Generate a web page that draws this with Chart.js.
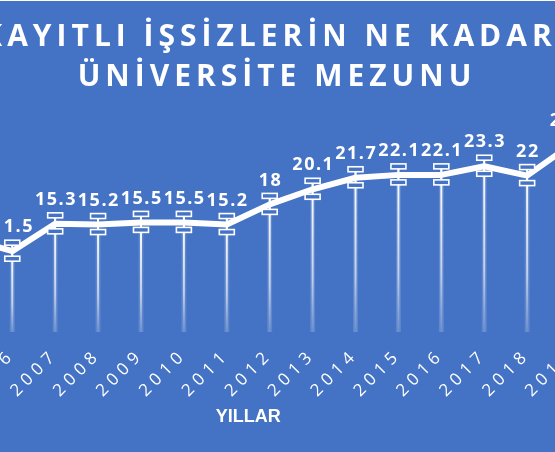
<!DOCTYPE html>
<html lang="tr">
<head>
<meta charset="utf-8">
<title>Kayıtlı işsizlerin ne kadarı üniversite mezunu</title>
<script src="https://cdn.jsdelivr.net/npm/chart.js@4.4.1/dist/chart.umd.min.js"></script>
<style>
  html, body {
    margin: 0;
    padding: 0;
    width: 555px;
    height: 452px;
    overflow: hidden;
    background: #4472C4;
  }
  /* the plot is wider than the window, both ends are cut off like the original */
  #wrap {
    position: absolute;
    left: -135px;
    top: 0;
    width: 800px;
    height: 452px;
  }
</style>
</head>
<body>
<div id="wrap"><canvas id="chart" width="800" height="452"></canvas></div>
<script>
// ========================================
// Data
// ========================================
const YEARS = ['2004', '2005', '2006', '2007', '2008', '2009', '2010', '2011',
               '2012', '2013', '2014', '2015', '2016', '2017', '2018', '2019'];
// 2004 is outside the picture, 2005 and 2019 are estimated from the cut line
const SHARE = [null, 13.2, 11.5, 15.3, 15.2, 15.5, 15.5, 15.2,
               18, 20.1, 21.7, 22.1, 22.1, 23.3, 22, 26.2];
const TITLE_LINES = ['KAYITLI İŞSİZLERİN NE KADARI', 'ÜNİVERSİTE MEZUNU'];
const X_TITLE = 'YILLAR';
const Y_MIN = 0;
const Y_MAX = 30;

const WHITE = '#ffffff';
const BLUE = '#4472C4';

// ========================================
// Plugins
// ========================================

// wide letter spacing for title and year labels, none for the axis title
const letterSpacing = {
  id: 'letterSpacing',
  beforeDraw(chart) {
    chart.ctx.letterSpacing = '5px';
  }
};

// vertical drop lines from each point to the axis
const dropLines = {
  id: 'dropLines',
  beforeDatasetsDraw(chart) {
    const ctx = chart.ctx;
    const meta = chart.getDatasetMeta(0);
    const base = chart.scales.y.getPixelForValue(Y_MIN);
    ctx.save();
    meta.data.forEach((pt, i) => {
      if (SHARE[i] === null || isNaN(pt.y)) return;
      const top = pt.y + 10;
      const g = ctx.createLinearGradient(0, top, 0, base);
      g.addColorStop(0, 'rgba(255,255,255,0.95)');
      g.addColorStop(0.6, 'rgba(255,255,255,0.6)');
      g.addColorStop(1, 'rgba(255,255,255,0.05)');

      // soft glow
      ctx.strokeStyle = 'rgba(255,255,255,0.15)';
      ctx.lineWidth = 5;
      ctx.beginPath();
      ctx.moveTo(pt.x, top);
      ctx.lineTo(pt.x, base - 2);
      ctx.stroke();

      ctx.strokeStyle = g;
      ctx.lineWidth = 2;
      ctx.beginPath();
      ctx.moveTo(pt.x, top);
      ctx.lineTo(pt.x, base - 2);
      ctx.stroke();
    });
    ctx.restore();
  }
};

// I-beam markers and value labels
const markersAndLabels = {
  id: 'markersAndLabels',
  afterDatasetsDraw(chart) {
    const ctx = chart.ctx;
    const meta = chart.getDatasetMeta(0);
    ctx.save();
    meta.data.forEach((pt, i) => {
      if (SHARE[i] === null || isNaN(pt.y)) return;
      const x = pt.x;
      const y = pt.y;

      // stem
      ctx.strokeStyle = WHITE;
      ctx.lineWidth = 2;
      ctx.beginPath();
      ctx.moveTo(x, y - 7);
      ctx.lineTo(x, y + 6);
      ctx.stroke();

      // caps
      ctx.fillStyle = BLUE;
      ctx.lineWidth = 1.6;
      [[y - 11, 5], [y + 5, 5]].forEach(([top, h]) => {
        ctx.fillRect(x - 7.5, top, 15, h);
        ctx.strokeRect(x - 7.5, top, 15, h);
      });
      ctx.beginPath();
      ctx.moveTo(x, y - 6);
      ctx.lineTo(x, y + 5);
      ctx.stroke();

      // value
      ctx.letterSpacing = '1.5px';
      ctx.fillStyle = WHITE;
      ctx.font = 'bold 18px "Open Sans"';
      ctx.textAlign = 'center';
      ctx.textBaseline = 'middle';
      ctx.fillText(String(SHARE[i]), x + 0.75, y - 24);
    });
    ctx.restore();
    // axis title is drawn after this, without spacing
    ctx.letterSpacing = '0px';
  }
};

// ========================================
// Chart
// ========================================
new Chart(document.getElementById('chart'), {
  type: 'line',
  data: {
    labels: YEARS,
    datasets: [{
      data: SHARE,
      borderColor: WHITE,
      borderWidth: 6,
      borderJoinStyle: 'round',
      borderCapStyle: 'round',
      pointRadius: 0,
      tension: 0,
      fill: false
    }]
  },
  options: {
    responsive: false,
    animation: false,
    layout: {
      padding: { left: 40, right: 16, top: 0, bottom: 0 }
    },
    plugins: {
      legend: { display: false },
      tooltip: { enabled: false },
      title: {
        display: true,
        text: TITLE_LINES,
        color: WHITE,
        font: { family: 'Open Sans', weight: 'bold', size: 30, lineHeight: '39.5px' },
        padding: { top: 18, bottom: 21 }
      }
    },
    scales: {
      x: {
        offset: true,
        grid: { display: false, z: 1 },
        border: { display: true, color: WHITE, width: 2 },
        ticks: {
          color: WHITE,
          font: { family: 'Open Sans', size: 17 },
          minRotation: 45,
          maxRotation: 45,
          autoSkip: false,
          padding: 3
        },
        title: {
          display: true,
          text: X_TITLE,
          color: WHITE,
          font: { family: 'Liberation Sans', weight: 'bold', size: 18 },
          padding: { top: 0, bottom: 24 }
        },
        afterFit(scale) {
          scale.height = 118;
        }
      },
      y: {
        position: 'right',
        min: Y_MIN,
        max: Y_MAX,
        grid: { display: false },
        border: { display: false },
        ticks: { display: false },
        afterFit(scale) {
          scale.width = 57.5;
        }
      }
    }
  },
  plugins: [letterSpacing, dropLines, markersAndLabels]
});
</script>
</body>
</html>
